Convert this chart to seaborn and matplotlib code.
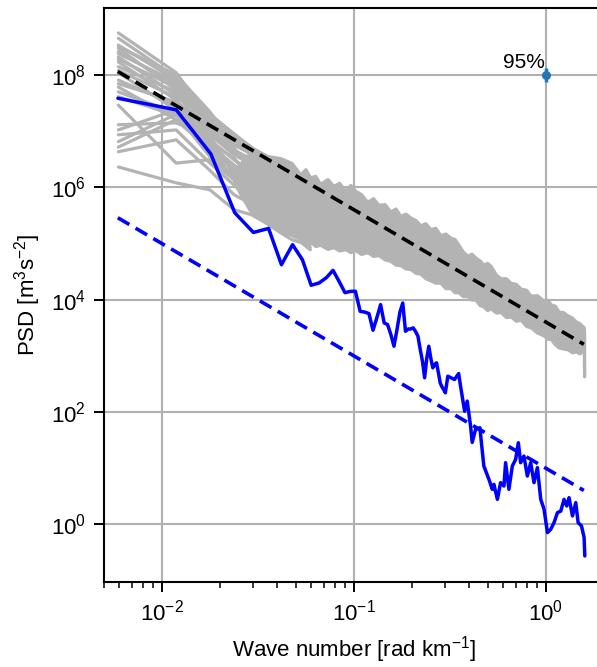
import numpy as np
import pandas as pd
import matplotlib
matplotlib.use("Agg")
import matplotlib.pyplot as plt
from matplotlib.ticker import NullLocator, LogLocator
import seaborn as sns

# ---------------- data ----------------
# low-wavenumber part of the individual (gray) spectra
fan_k = [0.00594, 0.01188, 0.01782, 0.02376, 0.0297, 0.03564, 0.04158, 0.04752, 0.05346, 0.0594]
gray_spectra = [
    [5.6e8, 1.1e8, 1.6e7, 7.0e6, 4.6e6, 3.1e6, 2.2e6, 1.67e6, 1.36e6, 1.1e6],
    [4.5e8, 9.0e7, 2.0e7, 9.0e6, 5.0e6, 3.5e6, 2.5e6, 1.8e6, 1.4e6, 1.2e6],
    [3.4e8, 8.1e7, 1.7e7, 8.6e6, 4.3e6, 3.3e6, 2.8e6, 2.0e6, 1.48e6, 1.25e6],
    [3.2e8, 1.0e8, 2.2e7, 6.0e6, 4.0e6, 2.8e6, 2.0e6, 1.4e6, 1.0e6, 8.0e5],
    [3.0e8, 5.4e7, 1.29e7, 5.7e6, 3.8e6, 2.5e6, 1.9e6, 1.6e6, 1.15e6, 9.0e5],
    [2.6e8, 6.6e7, 1.05e7, 4.6e6, 3.1e6, 2.2e6, 1.48e6, 1.1e6, 9.0e5, 7.4e5],
    [2.4e8, 7.5e7, 1.4e7, 7.5e6, 3.5e6, 2.0e6, 1.2e6, 9.5e5, 8.0e5, 6.5e5],
    [2.1e8, 4.4e7, 1.46e7, 5.0e6, 2.0e6, 1.67e6, 1.36e6, 9.0e5, 7.4e5, 6.0e5],
    [1.9e8, 6.0e7, 9.0e6, 4.0e6, 2.8e6, 1.8e6, 1.3e6, 7.0e5, 5.5e5, 4.5e5],
    [1.7e8, 3.6e7, 8.6e6, 3.8e6, 2.5e6, 1.36e6, 1.1e6, 8.3e5, 6.0e5, 4.9e5],
    [1.4e8, 5.0e7, 7.0e6, 3.1e6, 1.67e6, 1.48e6, 9.0e5, 6.5e5, 4.9e5, 4.0e5],
    [1.2e8, 4.0e7, 1.8e7, 5.0e6, 1.9e6, 1.2e6, 8.0e5, 5.0e5, 3.8e5, 3.0e5],
    [1.09e8, 2.4e7, 1.14e7, 4.3e6, 2.2e6, 1.1e6, 7.4e5, 6.0e5, 4.3e5, 3.2e5],
    [8.1e7, 2.9e7, 5.7e6, 2.5e6, 1.36e6, 9.0e5, 6.0e5, 4.0e5, 3.2e5, 2.6e5],
    [7.0e7, 3.3e7, 6.5e6, 3.3e6, 1.5e6, 8.0e5, 7.0e5, 4.5e5, 3.0e5, 2.3e5],
    [6.1e7, 1.6e7, 4.6e6, 2.0e6, 1.1e6, 7.4e5, 4.9e5, 3.7e5, 2.9e5, 2.2e5],
    [5.0e7, 2.1e7, 5.0e6, 2.4e6, 1.2e6, 7.0e5, 4.5e5, 3.3e5, 2.6e5, 2.0e5],
    [4.1e7, 1.9e7, 7.6e6, 1.67e6, 9.0e5, 6.0e5, 4.0e5, 2.9e5, 2.4e5, 1.75e5],
    [2.9e7, 2.7e6, 3.1e6, 1.36e6, 1.48e6, 4.9e5, 3.2e5, 2.4e5, 1.9e5, 1.43e5],
    [1.3e7, 1.4e7, 8.0e6, 1.9e6, 1.0e6, 5.5e5, 3.5e5, 2.7e5, 2.0e5, 1.6e5],
    [1.05e7, 2.4e7, 3.8e6, 2.2e6, 7.4e5, 6.0e5, 3.7e5, 2.2e5, 1.6e5, 1.27e5],
    [8.6e6, 1.05e7, 2.7e6, 1.1e6, 6.0e5, 4.0e5, 2.6e5, 1.9e5, 1.37e5, 1.07e5],
    [6.5e6, 2.0e7, 3.5e6, 1.6e6, 8.0e5, 4.5e5, 3.0e5, 2.0e5, 1.5e5, 1.2e5],
    [5.2e6, 1.6e7, 4.6e6, 1.48e6, 9.0e5, 3.2e5, 2.2e5, 1.6e5, 1.27e5, 9.5e4],
    [4.3e6, 7.0e6, 2.0e6, 7.4e5, 4.9e5, 2.9e5, 1.75e5, 1.43e5, 1.17e5, 8.4e4],
    [2.3e6, 1.2e6, 9.0e5, 4.0e5, 3.2e5, 2.2e5, 1.55e5, 1.17e5, 1.03e5, 7.7e4],
]

# envelope of the dense gray band at higher wavenumbers
band_k = [0.0238, 0.0297, 0.0356, 0.0416, 0.0475, 0.0526, 0.0560, 0.0593, 0.0630, 0.0668, 0.0730,
          0.0782, 0.0840, 0.0903, 0.0960, 0.1018, 0.1090, 0.1176, 0.1260, 0.1343, 0.1450,
          0.1551, 0.1650, 0.1749, 0.1860, 0.1972, 0.2100, 0.2225, 0.2360, 0.2508, 0.2660,
          0.2829, 0.3000, 0.3190, 0.3350, 0.3512, 0.3700, 0.3915, 0.4100, 0.4310, 0.4520,
          0.4747, 0.4950, 0.5162, 0.5500, 0.5821, 0.6200, 0.6566, 0.7000, 0.7404, 0.7900,
          0.8350, 0.9000, 0.9763, 1.0200, 1.0620, 1.1150, 1.1690, 1.2300, 1.3030, 1.3700,
          1.4340, 1.5000, 1.5790, 1.5850]
band_upper = [2.0e6, 4.6e6, 3.6e6, 3.3e6, 2.7e6, 1.7e6, 2.1e6, 1.5e6, 1.6e6, 1.15e6, 1.4e6,
              1.06e6, 1.2e6, 8.7e5, 1.1e6, 8.7e5, 7.6e5, 5.5e5, 6.4e5, 4.9e5, 5.0e5,
              3.7e5, 4.2e5, 3.1e5, 3.4e5, 2.9e5, 2.6e5, 2.1e5, 2.3e5, 1.8e5, 1.9e5,
              1.4e5, 1.5e5, 1.27e5, 1.2e5, 9.5e4, 7.2e4, 6.0e4, 6.6e4, 5.6e4, 5.0e4,
              4.2e4, 4.5e4, 4.0e4, 2.8e4, 2.4e4, 2.4e4, 2.0e4, 1.9e4, 1.57e4, 1.5e4,
              1.18e4, 1.2e4, 9.6e3, 1.0e4, 8.2e3, 7.8e3, 6.1e3, 6.0e3, 5.2e3, 4.8e3,
              4.1e3, 3.8e3, 3.2e3, 2.5e3]
band_lower = [1.2e6, 3.2e5, 2.4e5, 1.7e5, 1.4e5, 1.2e5, 1.0e5, 1.1e5, 9.0e4, 9.5e4, 8.0e4,
              8.6e4, 7.5e4, 7.9e4, 7.0e4, 7.6e4, 6.5e4, 7.0e4, 6.0e4, 6.2e4, 5.2e4,
              4.9e4, 4.2e4, 4.1e4, 3.6e4, 3.5e4, 3.0e4, 2.9e4, 2.4e4, 2.2e4, 2.0e4,
              2.0e4, 1.6e4, 1.6e4, 1.35e4, 1.35e4, 1.15e4, 1.15e4, 1.0e4, 1.0e4, 8.0e3,
              7.5e3, 6.5e3, 7.0e3, 5.9e3, 6.0e3, 4.9e3, 5.0e3, 4.2e3, 4.4e3, 3.4e3,
              3.2e3, 2.6e3, 2.3e3, 2.0e3, 2.0e3, 1.6e3, 1.4e3, 1.35e3, 1.3e3, 1.15e3,
              1.2e3, 1.1e3, 1.3e3, 4.3e2]

# blue spectrum
blue_k = [0.00591, 0.0119, 0.0180, 0.0240, 0.0300, 0.0360, 0.0420, 0.0480, 0.0540, 0.0600,
          0.0660, 0.0720, 0.0780, 0.0840, 0.0900, 0.0960, 0.102, 0.108, 0.114, 0.120,
          0.126, 0.132, 0.138, 0.144, 0.150, 0.156, 0.162, 0.168, 0.174, 0.180,
          0.186, 0.192, 0.198, 0.204, 0.210, 0.216, 0.222, 0.228, 0.234, 0.240,
          0.246, 0.252, 0.258, 0.264, 0.270, 0.276, 0.282, 0.288, 0.294, 0.300,
          0.309, 0.335, 0.352, 0.360, 0.378, 0.390, 0.406, 0.414, 0.431, 0.454,
          0.476, 0.506, 0.527, 0.537, 0.560, 0.582, 0.606, 0.618, 0.643, 0.670,
          0.697, 0.720, 0.740, 0.770, 0.802, 0.835, 0.869, 0.905, 0.942, 0.980,
          1.021, 1.062, 1.105, 1.151, 1.198, 1.246, 1.287, 1.323, 1.378, 1.434,
          1.475, 1.536, 1.585, 1.598]
blue_psd = [3.85e7, 2.39e7, 3.94e6, 3.52e5, 1.57e5, 1.85e5, 4.19e4, 9.5e4, 5.14e4, 1.80e4,
            1.98e4, 2.46e4, 3.32e4, 2.09e4, 1.33e4, 1.40e4, 1.41e4, 6.19e3, 6.0e3, 5.64e3,
            2.85e3, 4.8e3, 8.15e3, 3.85e3, 3.6e3, 2.4e3, 1.48e3, 2.93e3, 6.0e3, 8.7e3,
            2.73e3, 3.0e3, 3.0e3, 3.14e3, 2.7e3, 2.23e3, 1.29e3, 8.0e2, 4.06e2, 9.0e2,
            1.48e3, 9.0e2, 6.11e2, 7.0e2, 7.5e2, 5.0e2, 3.3e2, 2.8e2, 2.5e2, 2.19e2,
            4.33e2, 3.78e2, 4.83e2, 2.88e2, 1.03e2, 1.56e2, 56.0, 28.7, 48.9, 52.3,
            10.9, 6.3, 4.19, 5.14, 2.78, 5.51, 4.80, 12.5, 4.19, 10.9,
            14.3, 28.3, 12.5, 16.4, 7.22, 12.5, 5.51, 10.2, 2.78, 1.85,
            0.711, 0.815, 1.07, 1.61, 1.72, 2.78, 2.12, 2.98, 1.41, 2.43,
            1.07, 0.933, 0.58, 0.273]

# k^-2 reference lines (end points)
ref_k = [0.0059, 1.58]
ref_black = [1.15e8, 1.6e3]
ref_blue = [2.87e5, 4.0]

# 95 % confidence marker
ci_k = [1.0]
ci_psd = [1.0e8]
ci_low = [0.75e8]
ci_high = [1.33e8]

# ---------------- styling ----------------
sns.set_style("ticks")
plt.rcParams["font.family"] = ["Liberation Sans", "DejaVu Sans"]
plt.rcParams["mathtext.fontset"] = "custom"
plt.rcParams["mathtext.rm"] = "Liberation Sans"
plt.rcParams["mathtext.it"] = "Liberation Sans:italic"
plt.rcParams["mathtext.bf"] = "Liberation Sans:bold"
for key in ["text.color", "axes.labelcolor", "xtick.color", "ytick.color", "axes.edgecolor"]:
    plt.rcParams[key] = "black"

GRAY = "#b3b3b3"

fig = plt.figure(figsize=(5.97, 6.67), dpi=100)
ax = fig.add_axes([0.1742, 0.1279, 0.8367, 0.8597])
ax.set_xscale("log")
ax.set_yscale("log")

# gray spectra
fan_df = pd.DataFrame({
    "k": np.tile(fan_k, len(gray_spectra)),
    "psd": np.concatenate(gray_spectra),
    "line": np.repeat(np.arange(len(gray_spectra)), len(fan_k)),
})
sns.lineplot(data=fan_df, x="k", y="psd", units="line", estimator=None, sort=False,
             color=GRAY, lw=2.3, ax=ax, legend=False)
ax.fill_between(band_k, band_lower, band_upper, color=GRAY, edgecolor=GRAY, lw=2.3, zorder=2)

# reference slopes
ref_df = pd.DataFrame({"k": ref_k, "black": ref_black, "blue": ref_blue})
sns.lineplot(data=ref_df, x="k", y="black", color="black", lw=2.6, ax=ax,
             linestyle=(0, (3.7, 2.0)), zorder=4)
# blue spectrum
blue_df = pd.DataFrame({"k": blue_k, "psd": blue_psd})
sns.lineplot(data=blue_df, x="k", y="psd", color="blue", lw=2.5, sort=False,
             estimator=None, ax=ax, zorder=5)
sns.lineplot(data=ref_df, x="k", y="blue", color="blue", lw=2.6, ax=ax,
             linestyle=(0, (3.7, 2.0)), zorder=4)

# confidence marker
ax.errorbar(ci_k, ci_psd,
            yerr=[np.subtract(ci_psd, ci_low), np.subtract(ci_high, ci_psd)],
            fmt="o", color="#1f77b4", ms=5.5, elinewidth=2.5, capsize=0, zorder=6)
ax.text(0.99, 1.12e8, "95%", ha="right", va="bottom", fontsize=15)

# axes
ax.set_xlim(0.005, 2.0)
ax.set_ylim(0.095, 1.54e9)
ax.set_yticks([1e0, 1e2, 1e4, 1e6, 1e8])
ax.yaxis.set_minor_locator(NullLocator())
ax.xaxis.set_minor_locator(LogLocator(base=10, subs=np.arange(2, 10)))
ax.grid(True, which="major", color="#b0b0b0", lw=1.5)
ax.set_axisbelow(True)
ax.tick_params(which="major", length=7, width=1.4, labelsize=16, direction="out", color="black",
               pad=6)
ax.tick_params(which="minor", length=4, width=1.1, direction="out", color="black")
for side in ["left", "bottom", "top", "right"]:
    ax.spines[side].set_visible(True)
    ax.spines[side].set_linewidth(1.5)
    ax.spines[side].set_color("black")

ax.set_xlabel("Wave number [rad km$^{-1}$]", fontsize=16, labelpad=6)
ax.set_ylabel("PSD [m$^{3}$s$^{-2}$]", fontsize=16, labelpad=6)

fig.savefig("out.png", dpi=100)
